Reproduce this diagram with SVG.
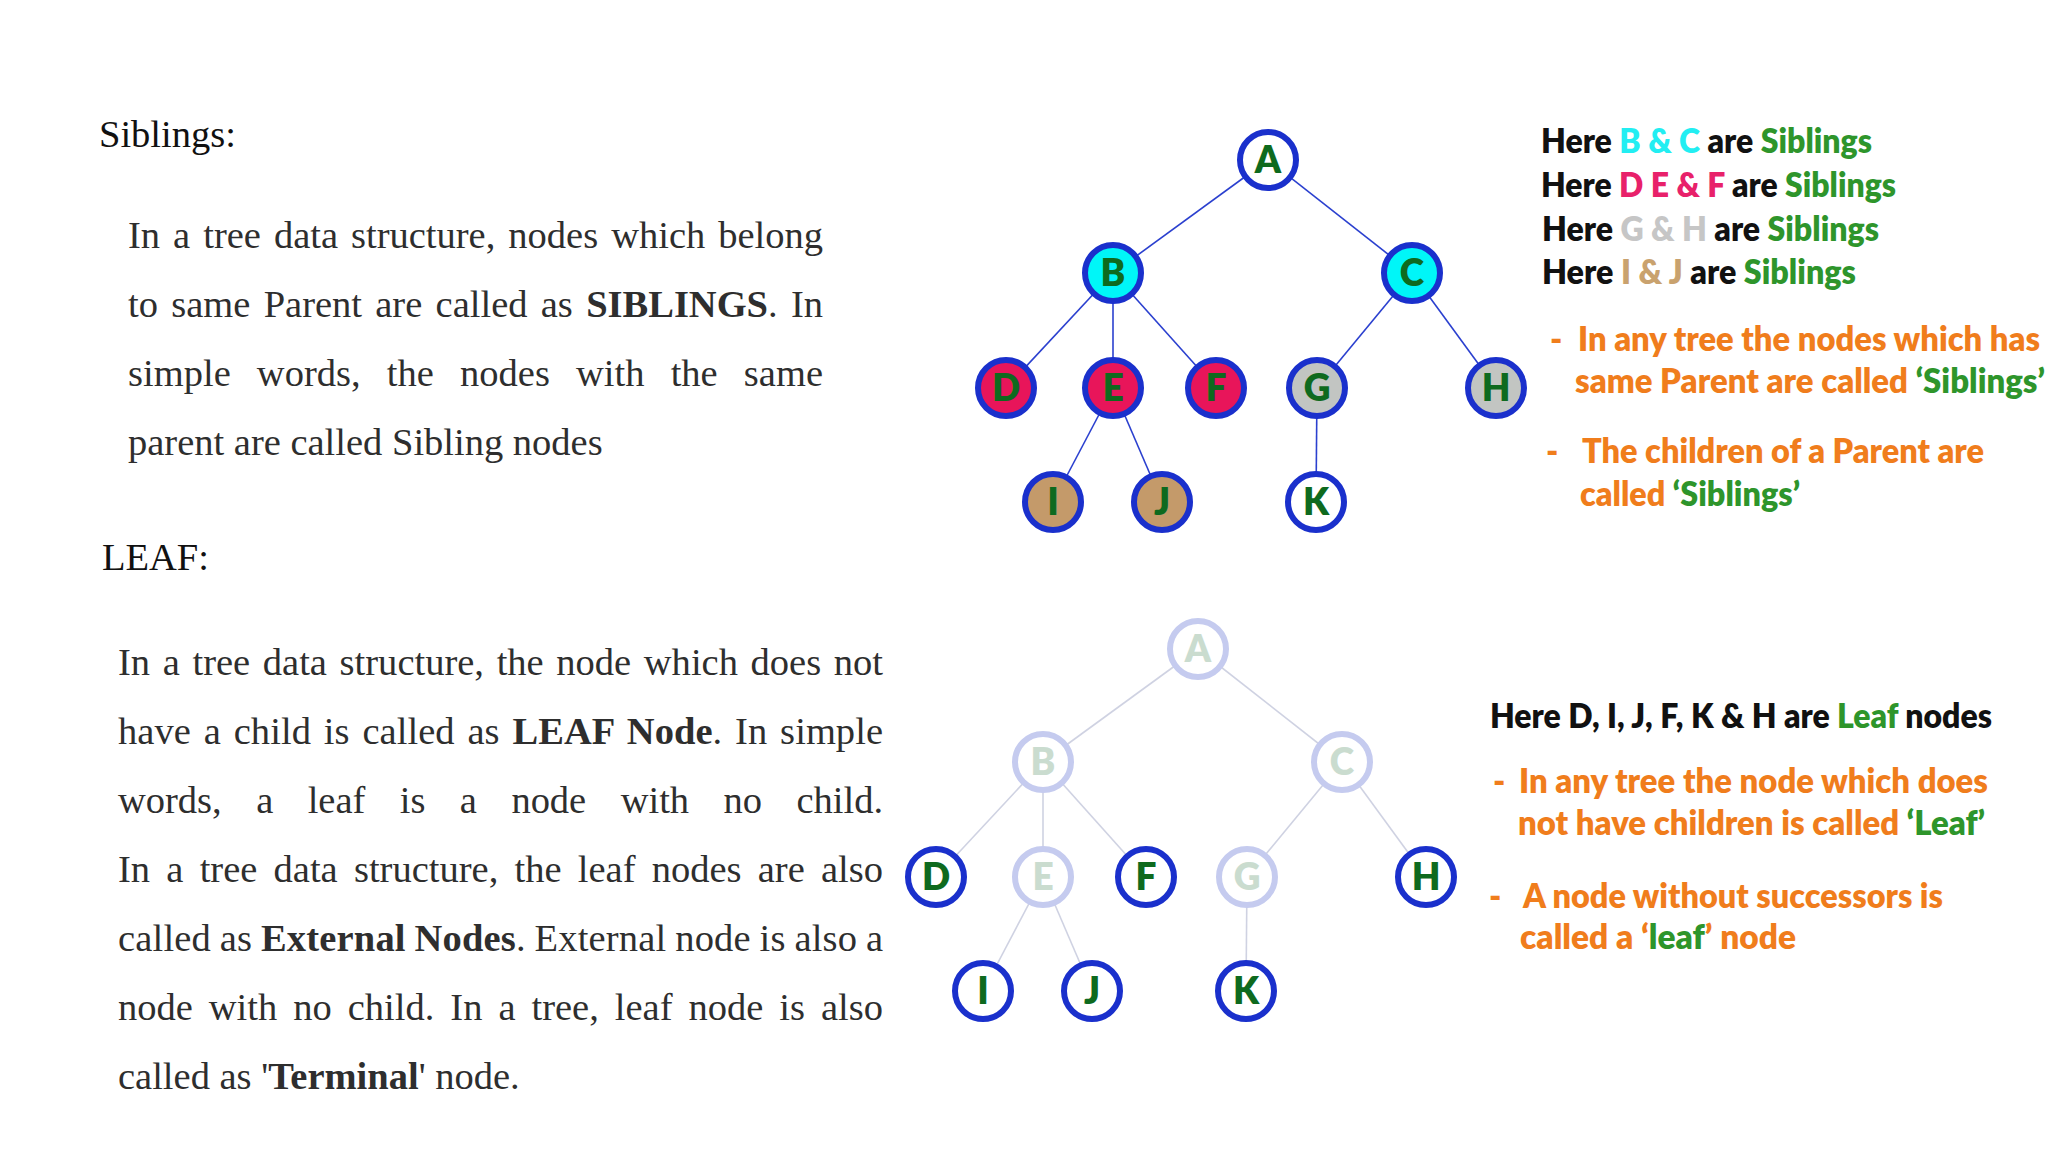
<svg xmlns="http://www.w3.org/2000/svg" width="2048" height="1152" viewBox="0 0 2048 1152">
<style>
  .serif { font-family: "Liberation Serif", "Times New Roman", serif; font-size: 38.5px; fill: #2e2e2e; }
  .head { fill: #111111; }
  .b { font-weight: 700; }
  .note { font-family: Lato, "Open Sans", "Liberation Sans", sans-serif; font-weight: 800; font-size: 33px; fill: #111111; }
  .or { fill: #f07d1c; }
  .gr { fill: #2e952b; }
  .cy { fill: #22eef2; }
  .pk { fill: #e8216a; }
  .gy { fill: #c6c6c6; }
  .tn { fill: #c9a26e; }
  .edge-top { stroke: #2b40cf; stroke-width: 1.6; fill: none; }
  .edge-bot { stroke: #cfd2e2; stroke-width: 1.6; fill: none; }
  .ring { stroke: #1a30cc; stroke-width: 6; }
  .ring-f { stroke: #c5cbef; stroke-width: 6; fill: #ffffff; }
  .w { fill: #ffffff; }
  .cyan { fill: #00f6f8; }
  .red { fill: #e8155a; }
  .silver { fill: #c2c5c2; }
  .tan { fill: #c49a6a; }
  .lbl { font-family: Lato, "Open Sans", "Liberation Sans", sans-serif; font-weight: 800; font-size: 37px; fill: #0e6a1e; text-anchor: middle; }
  .lbl-f { fill: #cadccf; }
</style>

<!-- Left text: Siblings -->
<g id="siblings-text" class="serif">
  <text class="head" x="99" y="147">Siblings:</text>
  <text x="128" y="248" word-spacing="3.4" textLength="695" lengthAdjust="spacing">In a tree data structure, nodes which belong</text>
  <text x="128" y="317" word-spacing="3.7" textLength="695" lengthAdjust="spacing">to same Parent are called as <tspan class="b">SIBLINGS</tspan>. In</text>
  <text x="128" y="386" word-spacing="16.5" textLength="695" lengthAdjust="spacing">simple words, the nodes with the same</text>
  <text x="128" y="455">parent are called Sibling nodes</text>
</g>

<!-- Left text: Leaf -->
<g id="leaf-text" class="serif">
  <text class="head" x="102" y="570">LEAF:</text>
  <text x="118" y="675" word-spacing="3.0" textLength="765" lengthAdjust="spacing">In a tree data structure, the node which does not</text>
  <text x="118" y="744" word-spacing="3.2" textLength="765" lengthAdjust="spacing">have a child is called as <tspan class="b">LEAF Node</tspan>. In simple</text>
  <text x="118" y="813" word-spacing="24.8" textLength="765" lengthAdjust="spacing">words, a leaf is a node with no child.</text>
  <text x="118" y="882" word-spacing="6.6" textLength="765" lengthAdjust="spacing">In a tree data structure, the leaf nodes are also</text>
  <text x="118" y="951" word-spacing="-1" textLength="765" lengthAdjust="spacing">called as <tspan class="b">External Nodes</tspan>. External node is also a</text>
  <text x="118" y="1020" word-spacing="6.4" textLength="765" lengthAdjust="spacing">node with no child. In a tree, leaf node is also</text>
  <text x="118" y="1089">called as '<tspan class="b">Terminal</tspan>' node.</text>
</g>

<!-- Connectors -->
<g id="connectors">
  <line class="edge-top" x1="1268" y1="160" x2="1113" y2="273"/>
  <line class="edge-top" x1="1268" y1="160" x2="1412" y2="273"/>
  <line class="edge-top" x1="1113" y1="273" x2="1006" y2="388"/>
  <line class="edge-top" x1="1113" y1="273" x2="1113" y2="388"/>
  <line class="edge-top" x1="1113" y1="273" x2="1216" y2="388"/>
  <line class="edge-top" x1="1412" y1="273" x2="1317" y2="388"/>
  <line class="edge-top" x1="1412" y1="273" x2="1496" y2="388"/>
  <line class="edge-top" x1="1113" y1="388" x2="1053" y2="502"/>
  <line class="edge-top" x1="1113" y1="388" x2="1162" y2="502"/>
  <line class="edge-top" x1="1317" y1="388" x2="1316" y2="502"/>

  <line class="edge-bot" x1="1198" y1="649" x2="1043" y2="762"/>
  <line class="edge-bot" x1="1198" y1="649" x2="1342" y2="762"/>
  <line class="edge-bot" x1="1043" y1="762" x2="936" y2="877"/>
  <line class="edge-bot" x1="1043" y1="762" x2="1043" y2="877"/>
  <line class="edge-bot" x1="1043" y1="762" x2="1146" y2="877"/>
  <line class="edge-bot" x1="1342" y1="762" x2="1247" y2="877"/>
  <line class="edge-bot" x1="1342" y1="762" x2="1426" y2="877"/>
  <line class="edge-bot" x1="1043" y1="877" x2="983" y2="991"/>
  <line class="edge-bot" x1="1043" y1="877" x2="1092" y2="991"/>
  <line class="edge-bot" x1="1247" y1="877" x2="1246" y2="991"/>
</g>

<!-- Top tree nodes -->
<g id="t-A"><circle class="ring w" cx="1268" cy="160" r="28"/><text class="lbl" x="1268" y="173">A</text></g>
<g id="t-B"><circle class="ring cyan" cx="1113" cy="273" r="28"/><text class="lbl" x="1113" y="286">B</text></g>
<g id="t-C"><circle class="ring cyan" cx="1412" cy="273" r="28"/><text class="lbl" x="1412" y="286">C</text></g>
<g id="t-D"><circle class="ring red" cx="1006" cy="388" r="28"/><text class="lbl" x="1006" y="401">D</text></g>
<g id="t-E"><circle class="ring red" cx="1113" cy="388" r="28"/><text class="lbl" x="1113" y="401">E</text></g>
<g id="t-F"><circle class="ring red" cx="1216" cy="388" r="28"/><text class="lbl" x="1216" y="401">F</text></g>
<g id="t-G"><circle class="ring silver" cx="1317" cy="388" r="28"/><text class="lbl" x="1317" y="401">G</text></g>
<g id="t-H"><circle class="ring silver" cx="1496" cy="388" r="28"/><text class="lbl" x="1496" y="401">H</text></g>
<g id="t-I"><circle class="ring tan" cx="1053" cy="502" r="28"/><text class="lbl" x="1053" y="515">I</text></g>
<g id="t-J"><circle class="ring tan" cx="1162" cy="502" r="28"/><text class="lbl" x="1162" y="515">J</text></g>
<g id="t-K"><circle class="ring w" cx="1316" cy="502" r="28"/><text class="lbl" x="1316" y="515">K</text></g>

<!-- Bottom tree nodes -->
<g id="b-A"><circle class="ring-f" cx="1198" cy="649" r="28"/><text class="lbl lbl-f" x="1198" y="662">A</text></g>
<g id="b-B"><circle class="ring-f" cx="1043" cy="762" r="28"/><text class="lbl lbl-f" x="1043" y="775">B</text></g>
<g id="b-C"><circle class="ring-f" cx="1342" cy="762" r="28"/><text class="lbl lbl-f" x="1342" y="775">C</text></g>
<g id="b-D"><circle class="ring w" cx="936" cy="877" r="28"/><text class="lbl" x="936" y="890">D</text></g>
<g id="b-E"><circle class="ring-f" cx="1043" cy="877" r="28"/><text class="lbl lbl-f" x="1043" y="890">E</text></g>
<g id="b-F"><circle class="ring w" cx="1146" cy="877" r="28"/><text class="lbl" x="1146" y="890">F</text></g>
<g id="b-G"><circle class="ring-f" cx="1247" cy="877" r="28"/><text class="lbl lbl-f" x="1247" y="890">G</text></g>
<g id="b-H"><circle class="ring w" cx="1426" cy="877" r="28"/><text class="lbl" x="1426" y="890">H</text></g>
<g id="b-I"><circle class="ring w" cx="983" cy="991" r="28"/><text class="lbl" x="983" y="1004">I</text></g>
<g id="b-J"><circle class="ring w" cx="1092" cy="991" r="28"/><text class="lbl" x="1092" y="1004">J</text></g>
<g id="b-K"><circle class="ring w" cx="1246" cy="991" r="28"/><text class="lbl" x="1246" y="1004">K</text></g>

<!-- Right notes: siblings -->
<g id="siblings-notes" class="note">
  <text x="1541" y="153" textLength="331" lengthAdjust="spacingAndGlyphs">Here <tspan class="cy">B &amp; C</tspan> are <tspan class="gr">Siblings</tspan></text>
  <text x="1541" y="197" textLength="355" lengthAdjust="spacingAndGlyphs">Here <tspan class="pk">D E &amp; F</tspan> are <tspan class="gr">Siblings</tspan></text>
  <text x="1542" y="241" textLength="337" lengthAdjust="spacingAndGlyphs">Here <tspan class="gy">G &amp; H</tspan> are <tspan class="gr">Siblings</tspan></text>
  <text x="1542" y="284" textLength="314" lengthAdjust="spacingAndGlyphs">Here <tspan class="tn">I &amp; J</tspan> are <tspan class="gr">Siblings</tspan></text>
  <text class="or" x="1550" y="351">-</text>
  <text class="or" x="1578" y="351" textLength="462" lengthAdjust="spacingAndGlyphs">In any tree the nodes which has</text>
  <text class="or" x="1575" y="393" textLength="470" lengthAdjust="spacingAndGlyphs">same Parent are called <tspan class="gr">‘Siblings’</tspan></text>
  <text class="or" x="1546" y="463">-</text>
  <text class="or" x="1582" y="463" textLength="402" lengthAdjust="spacingAndGlyphs">The children of a Parent are</text>
  <text class="or" x="1580" y="506" textLength="220" lengthAdjust="spacingAndGlyphs">called <tspan class="gr">‘Siblings’</tspan></text>
</g>

<!-- Right notes: leaf -->
<g id="leaf-notes" class="note">
  <text x="1490" y="728" textLength="502" lengthAdjust="spacingAndGlyphs">Here D, I, J, F, K &amp; H are <tspan class="gr">Leaf</tspan> nodes</text>
  <text class="or" x="1493" y="793">-</text>
  <text class="or" x="1519" y="793" textLength="469" lengthAdjust="spacingAndGlyphs">In any tree the node which does</text>
  <text class="or" x="1518" y="835" textLength="467" lengthAdjust="spacingAndGlyphs">not have children is called <tspan class="gr">‘Leaf’</tspan></text>
  <text class="or" x="1489" y="908">-</text>
  <text class="or" x="1523" y="908" textLength="420" lengthAdjust="spacingAndGlyphs">A node without successors is</text>
  <text class="or" x="1520" y="949" textLength="276" lengthAdjust="spacingAndGlyphs">called a ‘<tspan class="gr">leaf</tspan>’ node</text>
</g>
</svg>
